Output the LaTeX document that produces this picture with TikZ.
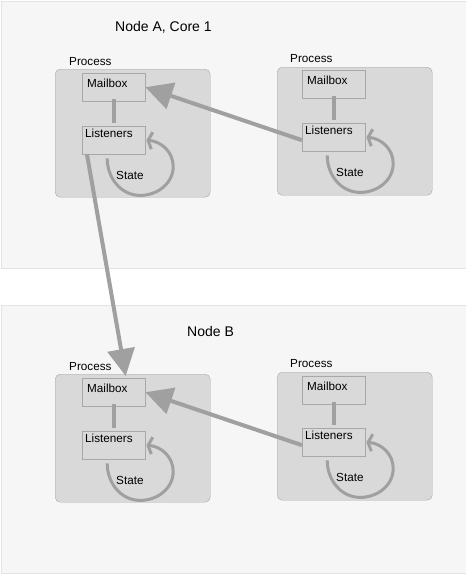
\documentclass[tikz,border=0pt]{standalone}
\usepackage{fontspec}
\setmainfont{Liberation Sans}
\usetikzlibrary{arrows.meta, calc, positioning}
\definecolor{panelfill}{HTML}{F6F6F6}
\definecolor{panelline}{HTML}{E3E3E3}
\definecolor{procfill}{HTML}{D9D9D9}
\definecolor{procline}{HTML}{A8A8A8}
\definecolor{linkgray}{HTML}{A0A0A0}
\tikzset{
    panel/.style = {rectangle, draw=panelline, fill=panelfill, line width=1pt,
                    anchor=north west, inner sep=0pt, minimum width=465pt},
    process/.style = {rectangle, rounded corners=5pt, draw=procline, fill=procfill,
                      anchor=north west, inner sep=0pt,
                      minimum width=155pt, minimum height=128pt},
    slot/.style = {rectangle, draw=procline, anchor=north west, inner sep=0pt,
                   minimum width=63pt, minimum height=28pt},
    txt/.style = {anchor=base west, inner sep=0pt, font=\fontsize{11.7}{13}\selectfont},
    title/.style = {anchor=base west, inner sep=0pt, font=\fontsize{14}{16}\selectfont},
    wire/.style = {draw=linkgray, line width=4pt, shorten >=3pt, shorten <=-2pt},
    link/.style = {draw=linkgray, line width=4pt, -{Triangle[length=27pt,width=27pt]}},
    selfloop/.style = {draw=linkgray, line width=3pt,
                       -{Straight Barb[length=4pt,width=17pt]}}
}

\begin{document}
\begin{tikzpicture}[x=1pt, y=-1pt]
    \useasboundingbox (0,0) rectangle (466,574);

    % the two machines
    \node[panel, minimum height=267pt] (nodeA) at (0.5,0.5) {};
    \node[panel, minimum height=268pt] (nodeB) at (0.5,305) {};
    \node[title] (titleA) at (115,31) {Node A, Core 1};
    \node[title] (titleB) at (187,336) {Node B};

    % processes
    \node[process] (procA1) at (55,69) {};
    \node[process] (procA2) at (277,67) {};
    \node[process] (procB1) at (55,374) {};
    \node[process] (procB2) at (277,372) {};

    \node[txt] (tPrA1) at ($(procA1.north west)+(14,-4)$) {Process};
    \node[txt] (tPrA2) at ($(procA2.north west)+(13,-5)$) {Process};
    \node[txt] (tPrB1) at ($(procB1.north west)+(14,-4)$) {Process};
    \node[txt] (tPrB2) at ($(procB2.north west)+(13,-5)$) {Process};

    % mailboxes and listeners
    \node[slot] (mbA1) at (82,73) {};
    \node[slot] (lsA1) at (82,126) {};
    \node[slot] (mbA2) at (302,70) {};
    \node[slot] (lsA2) at (302,123) {};
    \node[slot] (mbB1) at (82,378) {};
    \node[slot] (lsB1) at (82,431) {};
    \node[slot] (mbB2) at (302,376) {};
    \node[slot] (lsB2) at (302,428) {};

    \node[txt] (tMbA1) at ($(mbA1.north west)+(5,14)$) {Mailbox};
    \node[txt] (tMbA2) at ($(mbA2.north west)+(5,14)$) {Mailbox};
    \node[txt] (tMbB1) at ($(mbB1.north west)+(5,14)$) {Mailbox};
    \node[txt] (tMbB2) at ($(mbB2.north west)+(5,14)$) {Mailbox};

    \node[txt] (tLsA1) at ($(lsA1.north west)+(3,11)$) {Listeners};
    \node[txt] (tLsA2) at ($(lsA2.north west)+(3,11)$) {Listeners};
    \node[txt] (tLsB1) at ($(lsB1.north west)+(3,11)$) {Listeners};
    \node[txt] (tLsB2) at ($(lsB2.north west)+(3,11)$) {Listeners};

    \node[txt] (tStA1) at ($(lsA1.south west)+(34,25)$) {State};
    \node[txt] (tStA2) at ($(lsA2.south west)+(34,25)$) {State};
    \node[txt] (tStB1) at ($(lsB1.south west)+(34,25)$) {State};
    \node[txt] (tStB2) at ($(lsB2.south west)+(34,25)$) {State};

    \path[wire] (mbA1.south) -- (lsA1.north);
    \path[wire] (mbA2.south) -- (lsA2.north);
    \path[wire] (mbB1.south) -- (lsB1.north);
    \path[wire] (mbB2.south) -- (lsB2.north);

    % state loops
    \draw[selfloop] ([xshift=-6.5pt,yshift=-4pt]lsA1.south) to[out=-90,in=180] ++(33,37)
        to[out=0,in=-90] ++(33,-29) to[out=90,in=-5] ([xshift=1pt]lsA1.east);
    \draw[selfloop] ([xshift=-6.5pt,yshift=-4pt]lsA2.south) to[out=-90,in=180] ++(33,37)
        to[out=0,in=-90] ++(33,-29) to[out=90,in=-5] ([xshift=1pt]lsA2.east);
    \draw[selfloop] ([xshift=-6.5pt,yshift=-4pt]lsB1.south) to[out=-90,in=180] ++(33,37)
        to[out=0,in=-90] ++(33,-29) to[out=90,in=-5] ([xshift=1pt]lsB1.east);
    \draw[selfloop] ([xshift=-6.5pt,yshift=-4pt]lsB2.south) to[out=-90,in=180] ++(33,37)
        to[out=0,in=-90] ++(33,-29) to[out=90,in=-5] ([xshift=1pt]lsB2.east);

    % messages
    \path[link] ([yshift=-3pt]lsA2.west) -- (mbA1.east);
    \path[link] ([xshift=5pt]lsA1.south west) -- ([xshift=12pt,yshift=2pt]mbB1.north);
    \path[link] ([yshift=-3pt]lsB2.west) -- (mbB1.east);
\end{tikzpicture}
\end{document}
